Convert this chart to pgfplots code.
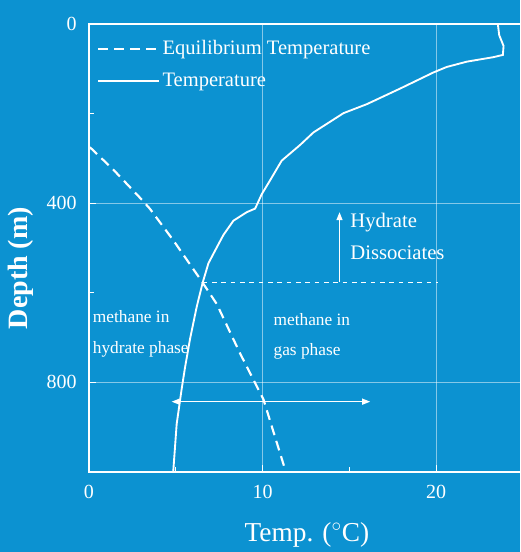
\documentclass[border=0pt]{standalone}
\usepackage{pgfplots}
\pgfplotsset{compat=1.18}
\usepackage{fontspec}
\setmainfont{Liberation Serif}
\usetikzlibrary{arrows.meta}
\definecolor{bgblue}{RGB}{12,146,209}

\pgfplotstableread{
T D
23.55 0
23.63 25
23.88 49
23.84 69
23.30 74
21.77 84
20.60 96
19.85 108
17.93 144
16.00 179
14.66 199
12.93 242
12.16 270
11.10 305
10.43 349
9.95 380
9.57 412
9.09 420
8.32 439
7.74 471
7.26 506
6.88 534
6.55 577
6.20 632
5.82 703
5.53 767
5.34 814
5.05 893
4.86 995
4.85 1000
}\temptable

\pgfplotstableread{
T D
0.05 275
1.40 325
2.94 388
3.50 412
4.86 483
6.40 569
7.36 625
8.70 735
10.05 838
11.30 995
11.33 1000
}\eqtable

\begin{document}
\begin{tikzpicture}
\fill[bgblue] (-66.75pt,-60pt) rectangle (323.25pt,354pt);
\begin{axis}[
  at={(0,0)}, anchor=south west,
  scale only axis, width=325.5pt, height=336pt,
  xmin=0, xmax=25, ymin=0, ymax=1000, y dir=reverse,
  xtick={0,10,20}, ytick={0,400,800},
  minor xtick={5,15}, minor ytick={200,600},
  tick pos=left, tick align=inside,
  major tick length=5pt, minor tick length=4pt,
  grid=major,
  major grid style={white, opacity=0.5, line width=0.6pt},
  axis line style={white, line width=1.1pt},
  tick style={white, line width=0.8pt},
  /pgf/number format/assume math mode=true,
  ticklabel style={text=white, font=\fontsize{15}{15}\selectfont, inner sep=0pt},
  xticklabel style={anchor=north, yshift=-9.75pt},
  yticklabel style={anchor=east, xshift=-9pt},
  xlabel={Temp. ($^{\circ}$C)},
  ylabel={Depth (m)},
  xlabel style={at={(axis description cs:0.502,-0.141)}, anchor=center, text=white, font=\fontsize{20.5}{20.5}\selectfont},
  ylabel style={at={(axis description cs:-0.157,0.455)}, anchor=center, text=white, font=\bfseries\fontsize{21}{21}\selectfont},
  legend cell align=left,
  legend image code/.code={\draw[#1] (0pt,0pt) -- (46pt,0pt);},
  legend style={at={(axis description cs:0.018,0.968)}, anchor=north west,
    draw=none, fill=none, text=white, font=\fontsize{15.4}{15.4}\selectfont,
    row sep=9pt, inner sep=0pt, nodes={inner sep=1.5pt}},
]
\addplot[white, line width=1.6pt, dash pattern=on 7.5pt off 4.5pt] table[x=T, y=D] {\eqtable};
\addlegendentry{Equilibrium Temperature}
\addplot[white, line width=1.4pt] table[x=T, y=D] {\temptable};
\addlegendentry{Temperature}

\addplot[white, line width=0.8pt, dash pattern=on 3.5pt off 3.5pt, forget plot] coordinates {(6.55,577) (20.1,577)};
\addplot[white, line width=0.9pt, -{Triangle[length=6pt,width=4.5pt]}, forget plot] coordinates {(14.43,577) (14.43,420)};
\addplot[white, line width=0.9pt, {Triangle[length=6pt,width=4.5pt]}-{Triangle[length=6pt,width=4.5pt]}, forget plot] coordinates {(4.76,843) (16.2,843)};

\node[anchor=west, text=white, font=\fontsize{15.5}{15.5}\selectfont, inner sep=0pt] at (axis cs:15.04,443) {Hydrate};
\node[anchor=west, text=white, font=\fontsize{15.5}{15.5}\selectfont, inner sep=0pt] at (axis cs:15.04,510) {Dissociates};
\node[anchor=west, text=white, font=\fontsize{13}{13}\selectfont, inner sep=0pt] at (axis cs:0.21,654) {methane in};
\node[anchor=west, text=white, font=\fontsize{13}{13}\selectfont, inner sep=0pt] at (axis cs:0.21,727) {hydrate phase};
\node[anchor=west, text=white, font=\fontsize{13}{13}\selectfont, inner sep=0pt] at (axis cs:10.62,660) {methane in};
\node[anchor=west, text=white, font=\fontsize{13}{13}\selectfont, inner sep=0pt] at (axis cs:10.62,731) {gas phase};
\end{axis}
\pgfresetboundingbox
\path (-66.75pt,-60pt) rectangle (323.25pt,354pt);
\end{tikzpicture}
\end{document}
